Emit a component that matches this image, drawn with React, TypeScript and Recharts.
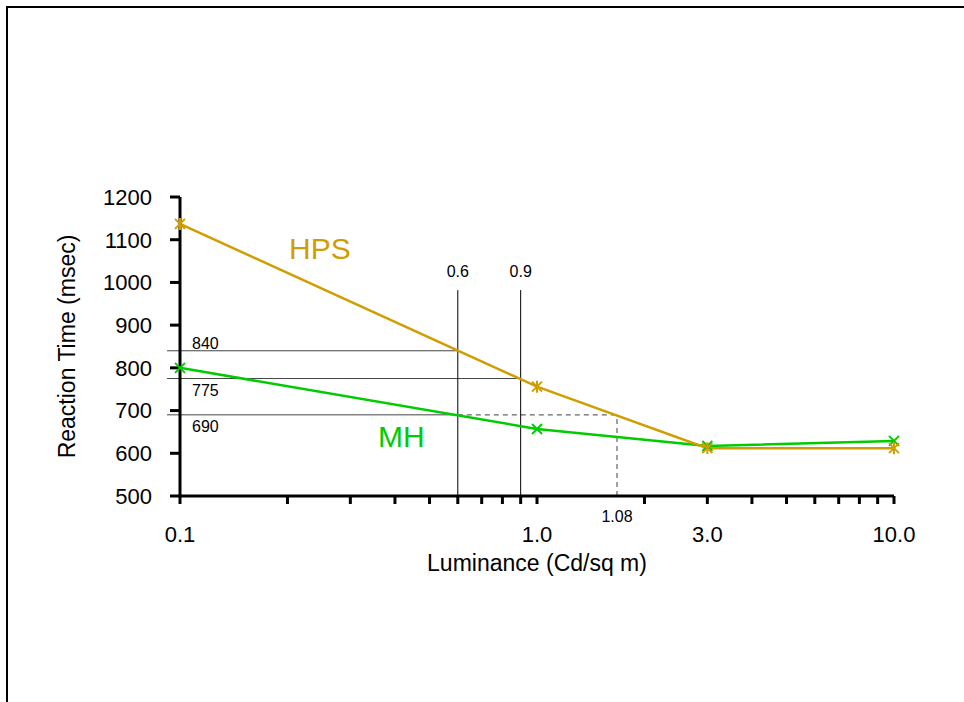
import React from 'react';
import { LineChart, Line, XAxis, YAxis, ReferenceLine, ReferenceDot } from 'recharts';

const luminance = [0.1, 1.0, 3.0, 10.0];
const hpsTimes = [1137, 756, 612, 612];
const mhTimes = [800, 657, 617, 629];

const xTicks = [0.1, 0.2, 0.3, 0.4, 0.5, 0.6, 0.7, 0.8, 0.9, 1, 2, 3, 4, 5, 6, 7, 8, 9, 10];
const xTickLabels: Record<string, string> = { '0.1': '0.1', '1': '1.0', '3': '3.0', '10': '10.0' };
const yTicks = [500, 600, 700, 800, 900, 1000, 1100, 1200];

const verticalMarks = [0.6, 0.9];
const verticalMarkLabels = ['0.6', '0.9'];
const verticalMarkTop = 982;
const horizontalMarks = [840, 775, 690];
const horizontalMarkLabels = ['840', '775', '690'];
const horizontalMarkEnds = [0.6, 0.9, 0.6];
const horizontalMarkStart = 0.092;
const dashedX = 1.675;
const dashedY = 690;
const dashedLabel = '1.08';
const seriesNames = ['HPS', 'MH'];
const seriesNameAnchors = [
  { x: 0.202, y: 1055 },
  { x: 0.3586, y: 615 },
];

const data = luminance.map((x, i) => ({ x, hps: hpsTimes[i], mh: mhTimes[i] }));

const FONT = '"Liberation Sans", Arial, Helvetica, sans-serif';
const HPS_COLOR = '#D09E00';
const MH_COLOR = '#00CC00';

const StarDot = (props: any) => {
  const { cx, cy, index } = props;
  if (cx == null || cy == null) return null;
  const s = 5;
  return (
    <g key={`s${index}`}>
      <line x1={cx - s} y1={cy - s} x2={cx + s} y2={cy + s} stroke={HPS_COLOR} strokeWidth={2} />
      <line x1={cx - s} y1={cy + s} x2={cx + s} y2={cy - s} stroke={HPS_COLOR} strokeWidth={2} />
      <line x1={cx} y1={cy - s - 1} x2={cx} y2={cy + s + 1} stroke={HPS_COLOR} strokeWidth={2} />
    </g>
  );
};

const CrossDot = (props: any) => {
  const { cx, cy, index } = props;
  if (cx == null || cy == null) return null;
  const s = 5;
  return (
    <g key={`c${index}`}>
      <line x1={cx - s} y1={cy - s} x2={cx + s} y2={cy + s} stroke={MH_COLOR} strokeWidth={2} />
      <line x1={cx - s} y1={cy + s} x2={cx + s} y2={cy - s} stroke={MH_COLOR} strokeWidth={2} />
    </g>
  );
};

const XTitle = (props: any) => {
  const vb = props.viewBox || { x: 180, y: 496, width: 714, height: 206 };
  return (
    <text x={vb.x + vb.width / 2} y={vb.y + 75} textAnchor="middle" fontSize={23} fontFamily={FONT} fill="#000">
      Luminance (Cd/sq m)
    </text>
  );
};

const YTitle = (props: any) => {
  const vb = props.viewBox || { x: 0, y: 197, width: 180, height: 299 };
  const x = vb.x + 75;
  const y = vb.y + vb.height / 2;
  return (
    <text x={x} y={y} transform={`rotate(-90, ${x}, ${y})`} textAnchor="middle" fontSize={23} fontFamily={FONT} fill="#000">
      Reaction Time (msec)
    </text>
  );
};

const tickStyle = { fill: '#000', fontSize: 22, fontFamily: FONT, stroke: 'none', fontWeight: 400 };

export default function App() {
  return (
    <div style={{ position: 'absolute', left: 0, top: 0, width: 964, height: 702, background: '#fff', fontFamily: FONT }}>
      <div
        style={{
          position: 'absolute',
          left: 6,
          top: 6,
          width: 958,
          height: 696,
          boxSizing: 'border-box',
          borderTop: '2px solid #000',
          borderLeft: '2px solid #000',
        }}
      />
      <div style={{ position: 'absolute', left: 0, top: 0 }}>
        <LineChart width={964} height={702} data={data} margin={{ top: 197, right: 70, bottom: 0, left: 0 }}>
          <XAxis
            dataKey="x"
            type="number"
            scale="log"
            domain={[0.1, 10]}
            ticks={xTicks}
            interval={0}
            tickFormatter={(v: number) => xTickLabels[String(v)] ?? ''}
            tickSize={8}
            tickMargin={22}
            height={206}
            axisLine={{ stroke: '#000', strokeWidth: 3 }}
            tickLine={{ stroke: '#000', strokeWidth: 3 }}
            tick={tickStyle}
            label={(p: any) => <XTitle {...p} />}
          />
          <YAxis
            type="number"
            domain={[500, 1200]}
            ticks={yTicks}
            interval={0}
            width={180}
            tickSize={10}
            tickMargin={18}
            axisLine={{ stroke: '#000', strokeWidth: 3 }}
            tickLine={{ stroke: '#000', strokeWidth: 3 }}
            tick={tickStyle}
            label={(p: any) => <YTitle {...p} />}
          />

          {horizontalMarks.map((y, i) => (
            <ReferenceLine
              key={`h${i}`}
              segment={[
                { x: horizontalMarkStart, y },
                { x: horizontalMarkEnds[i], y },
              ]}
              stroke="#444"
              strokeWidth={1}
              ifOverflow="visible"
            />
          ))}
          <ReferenceLine
            segment={[
              { x: horizontalMarkEnds[2], y: dashedY },
              { x: dashedX, y: dashedY },
            ]}
            stroke="#666"
            strokeWidth={1.2}
            strokeDasharray="5 4"
            ifOverflow="visible"
          />
          <ReferenceLine
            segment={[
              { x: dashedX, y: 500 },
              { x: dashedX, y: dashedY },
            ]}
            stroke="#666"
            strokeWidth={1.2}
            strokeDasharray="5 4"
            ifOverflow="visible"
          />
          {verticalMarks.map((x, i) => (
            <ReferenceLine
              key={`v${i}`}
              segment={[
                { x, y: 500 },
                { x, y: verticalMarkTop },
              ]}
              stroke="#000"
              strokeWidth={1}
              ifOverflow="visible"
            />
          ))}

          <Line dataKey="mh" stroke={MH_COLOR} strokeWidth={2.5} dot={(p: any) => <CrossDot key={`c${p.index}`} {...p} />} isAnimationActive={false} />
          <Line dataKey="hps" stroke={HPS_COLOR} strokeWidth={2.5} dot={(p: any) => <StarDot key={`s${p.index}`} {...p} />} isAnimationActive={false} />

          {verticalMarks.map((x, i) => (
            <ReferenceDot
              key={`vl${i}`}
              x={x}
              y={verticalMarkTop}
              r={0}
              ifOverflow="visible"
              shape={(p: any) => (
                <text x={p.cx} y={p.cy - 13} textAnchor="middle" fontSize={16} fontFamily={FONT} fill="#000">
                  {verticalMarkLabels[i]}
                </text>
              )}
            />
          ))}
          {horizontalMarks.map((y, i) => (
            <ReferenceDot
              key={`hl${i}`}
              x={0.1}
              y={y}
              r={0}
              ifOverflow="visible"
              shape={(p: any) => (
                <text x={p.cx + 12} y={i === 0 ? p.cy - 2 : p.cy + 17} textAnchor="start" fontSize={16} fontFamily={FONT} fill="#000">
                  {horizontalMarkLabels[i]}
                </text>
              )}
            />
          ))}
          <ReferenceDot
            x={dashedX}
            y={500}
            r={0}
            ifOverflow="visible"
            shape={(p: any) => (
              <text x={p.cx} y={p.cy + 26} textAnchor="middle" fontSize={16} fontFamily={FONT} fill="#000">
                {dashedLabel}
              </text>
            )}
          />
          {seriesNames.map((name, i) => (
            <ReferenceDot
              key={`sn${i}`}
              x={seriesNameAnchors[i].x}
              y={seriesNameAnchors[i].y}
              r={0}
              ifOverflow="visible"
              shape={(p: any) => (
                <text x={p.cx} y={p.cy} textAnchor="start" fontSize={30} fontFamily={FONT} fill={i === 0 ? HPS_COLOR : MH_COLOR}>
                  {name}
                </text>
              )}
            />
          ))}
        </LineChart>
      </div>
    </div>
  );
}
